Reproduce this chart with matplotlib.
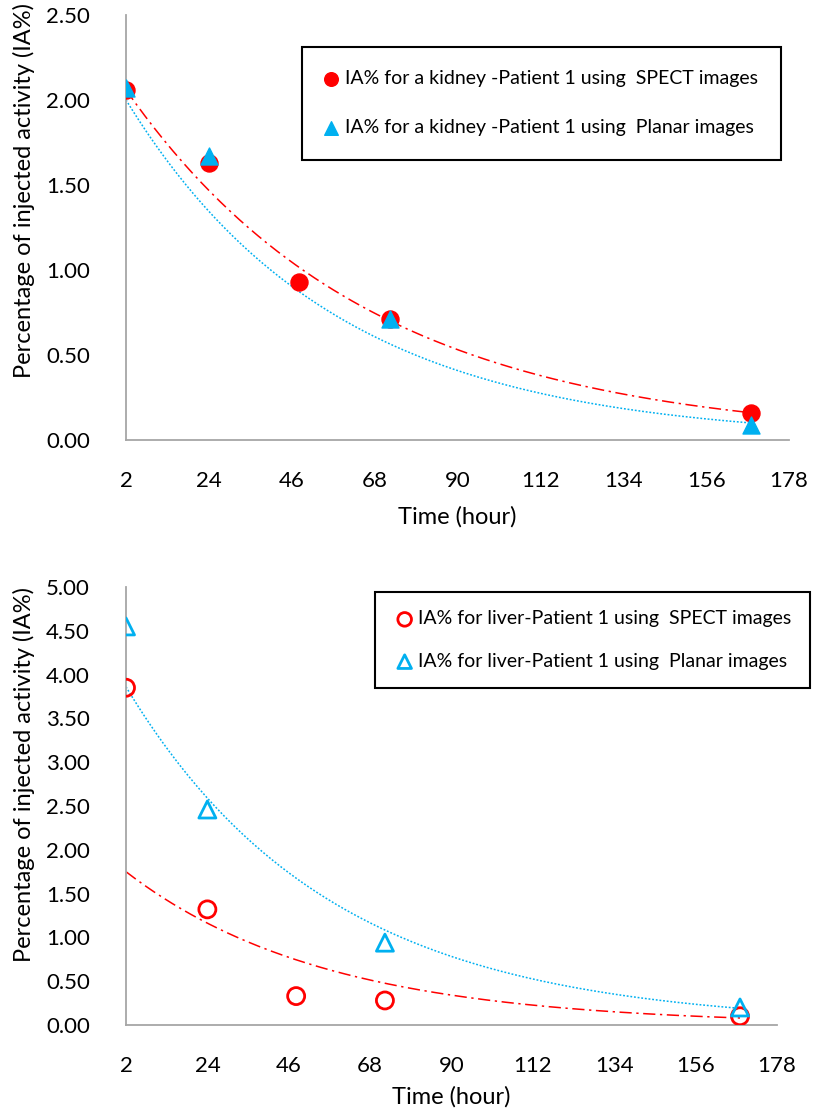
import numpy as np
import matplotlib.pyplot as plt

plt.rcParams['font.family'] = ['Lato', 'DejaVu Sans']

# kidney, patient 1
kid_t_spect = [2, 24, 48, 72, 168]
kid_spect = [2.06, 1.63, 0.93, 0.71, 0.16]
kid_t_planar = [2, 24, 72, 168]
kid_planar = [2.07, 1.67, 0.71, 0.09]
# exponential trendlines y = A * exp(b * t)
kid_spect_trend = [2.124, -0.01539]
kid_planar_trend = [2.074, -0.01805]

# liver, patient 1
liv_t_spect = [2, 24, 48, 72, 168]
liv_spect = [3.85, 1.32, 0.33, 0.28, 0.10]
liv_t_planar = [2, 24, 72, 168]
liv_planar = [4.55, 2.46, 0.94, 0.20]
liv_spect_trend = [1.816, -0.01858]
liv_planar_trend = [4.003, -0.01814]

xticks = [2, 24, 46, 68, 90, 112, 134, 156, 178]

RED = '#FF0000'
BLUE = '#00B0F0'
W, H = 813, 1115


def trend_curve(t, coef):
    tt = np.linspace(min(t), max(t), 200)
    return tt, coef[0] * np.exp(coef[1] * tt)


def style_axes(ax, ymax, xlab_y, ylab_y):
    ax.set_xlim(2, 178)
    ax.set_ylim(0, ymax)
    ax.set_xticks(xticks)
    ax.set_yticks(np.arange(0, ymax + 0.01, 0.5))
    ax.yaxis.set_major_formatter(plt.FormatStrFormatter('%.2f'))
    ax.tick_params(length=0, labelsize=16)
    ax.tick_params(axis='x', pad=22)
    ax.tick_params(axis='y', pad=26)
    for s in ['top', 'right']:
        ax.spines[s].set_visible(False)
    for s in ['left', 'bottom']:
        ax.spines[s].set_color('#a6a6a6')
        ax.spines[s].set_linewidth(1.3)
    ax.set_xlabel('Time (hour)', fontsize=17, va='center')
    ax.set_ylabel('Percentage of injected activity (IA%)', fontsize=17, va='center')
    bb = ax.get_position()
    ax.xaxis.set_label_coords((bb.x0 + bb.x1) / 2, 1 - xlab_y / H, transform=fig.transFigure)
    ax.yaxis.set_label_coords(24 / W, 1 - ylab_y / H, transform=fig.transFigure)


def add_legend(ax, right, top, spacing, pad, hlen, tpad):
    leg = ax.legend(loc='upper right', bbox_to_anchor=(right / W, 1 - top / H),
                    bbox_transform=fig.transFigure, fontsize=14, labelspacing=spacing,
                    handletextpad=tpad, handlelength=hlen, borderpad=pad,
                    borderaxespad=0, markerscale=0.8, fancybox=False,
                    edgecolor='black', framealpha=1)
    leg.get_frame().set_linewidth(1.5)


fig = plt.figure(figsize=(W / 100, H / 100), dpi=100)

# top: kidney
ax1 = fig.add_axes([126 / W, 1 - 440 / H, 663 / W, 425 / H])
ax1.scatter(kid_t_spect, kid_spect, s=150, marker='o', color=RED, zorder=3,
            label='IA% for a kidney -Patient 1 using  SPECT images')
ax1.scatter(kid_t_planar, kid_planar, s=150, marker='^', color=BLUE, zorder=4,
            label='IA% for a kidney -Patient 1 using  Planar images')
tt, yy = trend_curve(kid_t_spect, kid_spect_trend)
ax1.plot(tt, yy, color=RED, lw=1.1, dashes=[8, 3, 1.5, 3], zorder=2)
tt, yy = trend_curve(kid_t_planar, kid_planar_trend)
ax1.plot(tt, yy, color=BLUE, lw=1.1, dashes=[1.2, 1.2], zorder=2)
style_axes(ax1, 2.5, 517, 190)
add_legend(ax1, 781, 47, 1.65, 1.2, 0.6, 0.4)

# bottom: liver
ax2 = fig.add_axes([126 / W, 1 - 1025 / H, 651 / W, 438 / H])
ax2.scatter(liv_t_spect, liv_spect, s=150, marker='o', facecolor='none',
            edgecolor=RED, linewidth=2, zorder=3,
            label='IA% for liver-Patient 1 using  SPECT images')
ax2.scatter(liv_t_planar, liv_planar, s=150, marker='^', facecolor='none',
            edgecolor=BLUE, linewidth=2, zorder=4,
            label='IA% for liver-Patient 1 using  Planar images')
tt, yy = trend_curve(liv_t_spect, liv_spect_trend)
ax2.plot(tt, yy, color=RED, lw=1.1, dashes=[8, 3, 1.5, 3], zorder=2)
tt, yy = trend_curve(liv_t_planar, liv_planar_trend)
ax2.plot(tt, yy, color=BLUE, lw=1.1, dashes=[1.2, 1.2], zorder=2)
style_axes(ax2, 5.0, 1097, 775)
add_legend(ax2, 810, 592, 1.3, 0.95, 1.2, 0.1)

fig.savefig('out.png', dpi=100)
